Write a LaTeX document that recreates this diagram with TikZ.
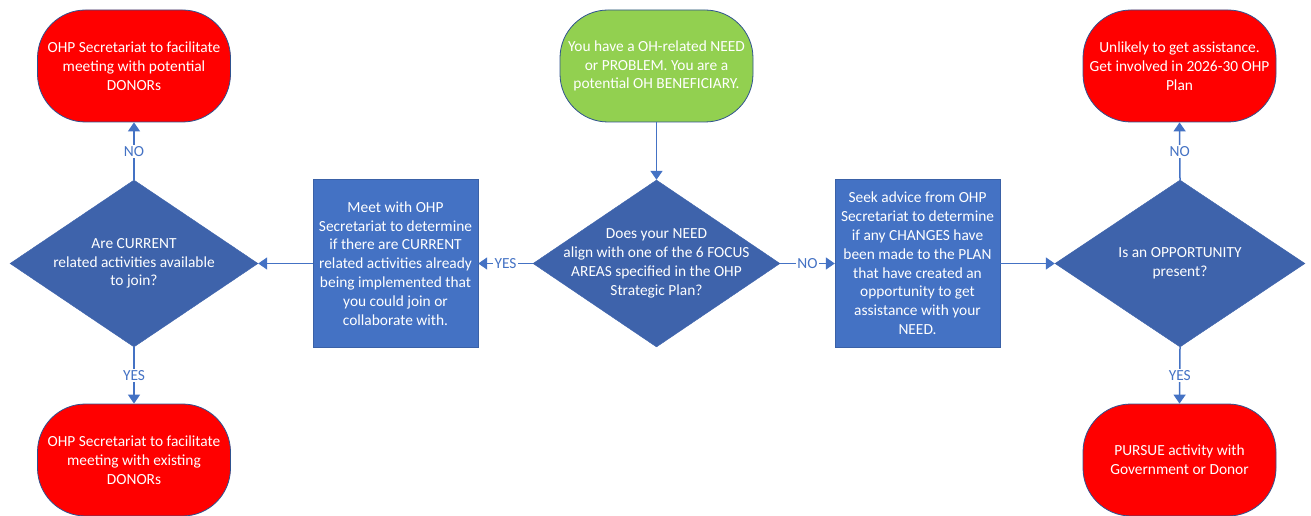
\documentclass[tikz,border=0pt]{standalone}
\usepackage{fontspec}
\setmainfont{Carlito}
\usetikzlibrary{shapes.geometric,arrows.meta}
\definecolor{termred}{HTML}{FF0000}
\definecolor{startgreen}{HTML}{92D050}
\definecolor{boxblue}{HTML}{4472C4}
\definecolor{diablue}{HTML}{3E63AB}
\definecolor{edgeblue}{HTML}{2F528F}
\definecolor{connblue}{HTML}{4472C4}
\begin{document}
\begin{tikzpicture}[x=1pt,y=-1pt,
  txt/.style={text=white, align=center, font=\fontsize{15.4}{18.8}\selectfont},
  term/.style={txt, rectangle, rounded corners=48pt, draw=edgeblue, line width=0.8pt,
    fill=termred, minimum width=193pt, minimum height=112pt, inner sep=0pt},
  startterm/.style={term, fill=startgreen},
  procbox/.style={txt, rectangle, fill=boxblue, draw=boxblue!85!black, line width=0.4pt,
    minimum width=165pt, minimum height=168pt, inner sep=0pt},
  decision/.style={diamond, fill=diablue, draw=diablue, line width=0.4pt, inner sep=0pt},
  conn/.style={draw=connblue, line width=1.5pt, -{Triangle[length=9pt,width=12pt]}},
  lbl/.style={fill=white, inner sep=1.5pt, text=connblue, font=\fontsize{15.4}{18.8}\selectfont}
]
\useasboundingbox (0,0) rectangle (1311,516);

% terminators
\node[term] (donpot) at (134,66) {OHP Secretariat to facilitate\\meeting with potential\\DONORs};
\node[term] (donex) at (134,460) {OHP Secretariat to facilitate\\meeting with existing\\DONORs};
\node[startterm] (start) at (656.5,66) {You have a OH-related NEED\\or PROBLEM. You are a\\potential OH BENEFICIARY.};
\node[term] (unlikely) at (1179.5,66) {Unlikely to get assistance.\\Get involved in 2026-30 OHP\\Plan};
\node[term] (pursue) at (1179.5,460) {PURSUE activity with\\Government or Donor};

% decisions
\node[decision, minimum width=248pt, minimum height=167pt] (dcur) at (134,263.5) {};
\node[txt] (dcurt) at (dcur.center) {Are CURRENT\\related activities available\\to join?};
\node[decision, minimum width=247pt, minimum height=167pt] (dfocus) at (656.5,263.5) {};
\node[txt] (dfocust) at (dfocus.center) {Does your NEED\\align with one of the 6 FOCUS\\AREAS specified in the OHP\\Strategic Plan?};
\node[decision, minimum width=250pt, minimum height=167pt] (dopp) at (1180,263.5) {};
\node[txt] (doppt) at (dopp.center) {Is an OPPORTUNITY\\present?};

% process boxes
\node[procbox] (meet) at (395.5,263.5) {Meet with OHP\\Secretariat to determine\\if there are CURRENT\\related activities already\\being implemented that\\you could join or\\collaborate with.};
\node[procbox] (seek) at (917.5,263.5) {Seek advice from OHP\\Secretariat to determine\\if any CHANGES have\\been made to the PLAN\\that have created an\\opportunity to get\\assistance with your\\NEED.};

% connectors
\draw[conn] (start.south) -- (dfocus.north);
\draw[conn] (dfocus.west) -- node[lbl]{YES} (meet.east);
\draw[conn] (dfocus.east) -- node[lbl]{NO} (seek.west);
\draw[conn] (meet.west) -- (dcur.east);
\draw[conn] (seek.east) -- (dopp.west);
\draw[conn] (dcur.north) -- node[lbl]{NO} (donpot.south);
\draw[conn] (dcur.south) -- node[lbl]{YES} (donex.north);
\draw[conn] (dopp.north) -- node[lbl]{NO} (unlikely.south);
\draw[conn] (dopp.south) -- node[lbl]{YES} (pursue.north);
\end{tikzpicture}
\end{document}
